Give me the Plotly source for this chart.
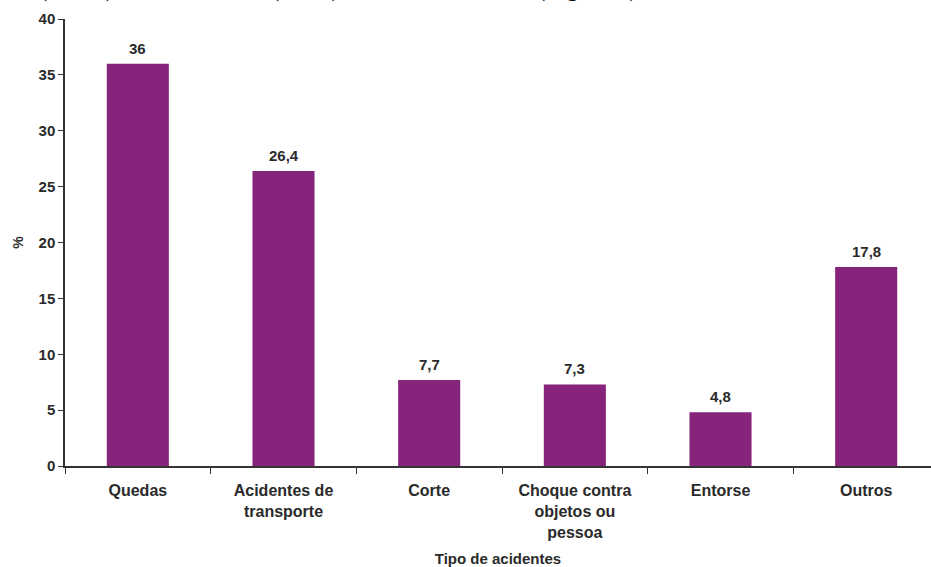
import plotly.graph_objects as go

categories = ["Quedas", "Acidentes de transporte", "Corte",
              "Choque contra objetos ou pessoa", "Entorse", "Outros"]
tick_labels = ["Quedas", "Acidentes de<br>transporte", "Corte",
               "Choque contra<br>objetos ou<br>pessoa", "Entorse", "Outros"]
values = [36, 26.4, 7.7, 7.3, 4.8, 17.8]
y_ticks = [0, 5, 10, 15, 20, 25, 30, 35, 40]

W, H = 931, 567
ML, MR, MT, MB = 65, 0, 19, 101
BAR = "#86237A"
TXT = "#2a2a2a"
FONT = "Liberation Sans, Arial, sans-serif"

fig = go.Figure()
fig.add_trace(go.Bar(
    x=categories, y=values,
    marker=dict(color=BAR, line=dict(width=0)),
    cliponaxis=False,
))

# value labels above the bars
for c, v in zip(categories, values):
    fig.add_annotation(
        x=c, y=v, xref="x", yref="y",
        text=f"{v:g}".replace(".", ","),
        showarrow=False, yanchor="bottom", yshift=5,
        font=dict(family=FONT, size=15, color=TXT, weight="bold"),
    )

fig.update_layout(
    width=W, height=H,
    margin=dict(l=ML, r=MR, t=MT, b=MB, pad=0),
    paper_bgcolor="white", plot_bgcolor="white",
    separators=",.",
    bargap=0.574,
    showlegend=False,
    font=dict(family=FONT, color=TXT),
)
fig.update_xaxes(
    type="category",
    range=[-0.5, 5.445],
    automargin=False,
    tickmode="array", tickvals=categories, ticktext=tick_labels,
    tickson="boundaries",
    ticks="outside", ticklen=6, tickwidth=1.3, tickcolor="#333",
    showline=True, linecolor="#333", linewidth=1.5,
    showgrid=False, zeroline=False,
    tickfont=dict(family=FONT, size=16, color=TXT, weight="bold"),
    ticklabelstandoff=9,
    title=dict(text="Tipo de acidentes", standoff=20,
               font=dict(family=FONT, size=15, color=TXT, weight="bold")),
)
fig.update_yaxes(
    range=[0, 40],
    automargin=False,
    tickmode="array", tickvals=y_ticks,
    ticks="outside", ticklen=5, tickwidth=1.3, tickcolor="#333",
    showline=True, linecolor="#333", linewidth=1.5,
    showgrid=False, zeroline=False,
    tickfont=dict(family=FONT, size=15, color=TXT, weight="bold"),
    title=dict(text="%", standoff=12,
               font=dict(family=FONT, size=14, color=TXT, weight="bold")),
)

# cropped line of document text above the chart (only descenders visible)
frag_font = dict(family="Liberation Serif, Times New Roman, serif", size=25, color="#111")
for txt, xp in [("(4,8 %)", 38), ("(7,7%),", 270), ("(Figura 1)", 536)]:
    fig.add_annotation(
        text=txt, xref="paper", yref="paper",
        x=(xp - ML) / (W - ML - MR), y=(H - MB - 3) / (H - MT - MB),
        xanchor="left", yanchor="bottom", showarrow=False,
        font=frag_font, borderpad=0,
    )

fig.write_html("out.html")
